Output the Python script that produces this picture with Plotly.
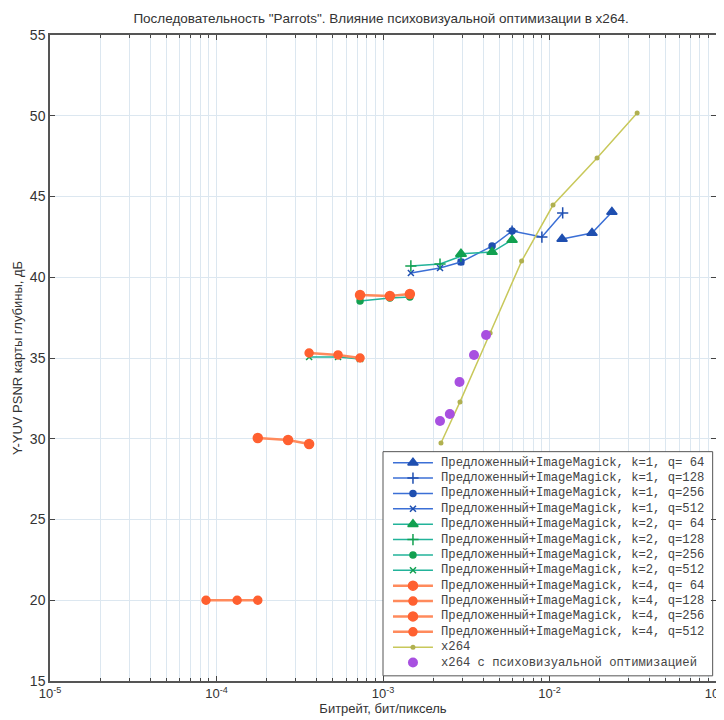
import plotly.graph_objects as go

# ---- data ----
# k=1 (blue)
k1_q64_x = [1.19e-2, 1.80e-2, 2.37e-2]
k1_q64_y = [42.37, 42.74, 44.04]
k1_q128_x = [5.96e-3, 9.0e-3, 1.2e-2]
k1_q128_y = [42.86, 42.49, 43.98]
k1_q256_x = [2.94e-3, 4.52e-3, 5.96e-3]
k1_q256_y = [40.94, 41.93, 42.86]
k1_q512_x = [1.47e-3, 2.2e-3, 2.94e-3]
k1_q512_y = [40.26, 40.57, 40.94]

# k=2 (green)
k2_q64_x = [2.94e-3, 4.52e-3, 5.96e-3]
k2_q64_y = [41.45, 41.56, 42.31]
k2_q128_x = [1.47e-3, 2.2e-3, 2.94e-3]
k2_q128_y = [40.70, 40.82, 41.30]
k2_q256_x = [7.28e-4, 1.1e-3, 1.45e-3]
k2_q256_y = [38.53, 38.72, 38.78]
k2_q512_x = [3.6e-4, 5.37e-4, 7.28e-4]
k2_q512_y = [35.06, 35.06, 34.94]

# k=4 (orange)
k4_q64_x = [7.28e-4, 1.1e-3, 1.45e-3]
k4_q64_y = [38.90, 38.84, 38.96]
k4_q128_x = [3.6e-4, 5.37e-4, 7.28e-4]
k4_q128_y = [35.31, 35.19, 35.00]
k4_q256_x = [1.77e-4, 2.69e-4, 3.6e-4]
k4_q256_y = [30.05, 29.92, 29.67]
k4_q512_x = [8.65e-5, 1.33e-4, 1.77e-4]
k4_q512_y = [20.0, 20.0, 20.0]

# x264
x264_x = [2.23e-3, 2.9e-3, 4.4e-3, 6.8e-3, 1.05e-2, 1.93e-2, 3.36e-2]
x264_y = [29.74, 32.28, 36.55, 41.0, 44.47, 47.38, 50.17]

# x264 with psychovisual optimization
psy_x = [2.2e-3, 2.52e-3, 2.88e-3, 3.52e-3, 4.16e-3]
psy_y = [31.1, 31.53, 33.51, 35.19, 36.42]

x_tickvals = [1e-5, 1e-4, 1e-3, 1e-2, 1e-1]
x_ticktext = ["10<sup>-5</sup>", "10<sup>-4</sup>", "10<sup>-3</sup>", "10<sup>-2</sup>", "10<sup>-1</sup>"]
x_minor = [m * 10.0 ** e for e in range(-5, -1) for m in range(2, 10)]

label = "Предложенный+ImageMagick, k={k}, q={q}"

fig = go.Figure()
entries = []  # (name, line color, line width, marker dict, show line)


def add(x, y, name, lc, mc, sym, msize, lw):
    marker = dict(color=mc, symbol=sym, size=msize, line=dict(color=mc, width=1.5))
    fig.add_trace(go.Scatter(x=x, y=y, name=name, mode="lines+markers",
                             line=dict(color=lc, width=lw), marker=marker,
                             showlegend=False))
    entries.append((name, lc, lw, marker, True))


blue_l, blue_m = "#3b6fd6", "#1f4fb0"
green_l, green_m = "#22b39a", "#12a050"
orange_l, orange_m = "#ff8a5c", "#ff6030"

add(k1_q64_x, k1_q64_y, label.format(k=1, q=" 64"), blue_l, blue_m, "triangle-up", 9, 1.5)
add(k1_q128_x, k1_q128_y, label.format(k=1, q="128"), blue_l, blue_m, "cross-thin", 8, 1.5)
add(k1_q256_x, k1_q256_y, label.format(k=1, q="256"), blue_l, blue_m, "circle", 6, 1.5)
add(k1_q512_x, k1_q512_y, label.format(k=1, q="512"), blue_l, blue_m, "x-thin", 6, 1.5)
add(k2_q64_x, k2_q64_y, label.format(k=2, q=" 64"), green_l, green_m, "triangle-up", 9, 1.5)
add(k2_q128_x, k2_q128_y, label.format(k=2, q="128"), green_l, green_m, "cross-thin", 8, 1.5)
add(k2_q256_x, k2_q256_y, label.format(k=2, q="256"), green_l, green_m, "circle", 6, 1.5)
add(k2_q512_x, k2_q512_y, label.format(k=2, q="512"), green_l, green_m, "x-thin", 6, 1.5)
add(k4_q64_x, k4_q64_y, label.format(k=4, q=" 64"), orange_l, orange_m, "circle", 9, 2.5)
add(k4_q128_x, k4_q128_y, label.format(k=4, q="128"), orange_l, orange_m, "circle", 8, 2.5)
add(k4_q256_x, k4_q256_y, label.format(k=4, q="256"), orange_l, orange_m, "circle", 9, 2.5)
add(k4_q512_x, k4_q512_y, label.format(k=4, q="512"), orange_l, orange_m, "circle", 8, 2.5)

x264_marker = dict(color="#b0b050", size=5, symbol="circle")
fig.add_trace(go.Scatter(x=x264_x, y=x264_y, name="x264", mode="lines+markers",
                         line=dict(color="#c8c85a", width=1.5), marker=x264_marker,
                         showlegend=False))
entries.append(("x264", "#c8c85a", 1.5, x264_marker, True))

psy_marker = dict(color="#a850e0", size=10, symbol="circle")
fig.add_trace(go.Scatter(x=psy_x, y=psy_y, name="x264 с психовизуальной оптимизацией",
                         mode="markers", marker=psy_marker, showlegend=False))
entries.append(("x264 с психовизуальной оптимизацией", None, 0, psy_marker, False))

# ---- legend box (drawn on an overlay axis in plot-fraction units) ----
L_X0, L_X1, L_Y0, L_Y1 = 0.50, 0.995, 0.008, 0.355
ROW_TOP, ROW_STEP = 0.338, 0.0238
SAMPLE_X0, SAMPLE_X1, TEXT_X = 0.515, 0.575, 0.584

fig.add_trace(go.Scatter(x=[L_X0, L_X1, L_X1, L_X0, L_X0], y=[L_Y0, L_Y0, L_Y1, L_Y1, L_Y0],
                         mode="lines", fill="toself", fillcolor="white",
                         line=dict(color="#555", width=1), xaxis="x2", yaxis="y2",
                         showlegend=False, hoverinfo="skip"))
for i, (name, lc, lw, marker, show_line) in enumerate(entries):
    yy = ROW_TOP - i * ROW_STEP
    if show_line:
        fig.add_trace(go.Scatter(x=[SAMPLE_X0, SAMPLE_X1], y=[yy, yy], mode="lines",
                                 line=dict(color=lc, width=lw), xaxis="x2", yaxis="y2",
                                 showlegend=False, hoverinfo="skip"))
    fig.add_trace(go.Scatter(x=[(SAMPLE_X0 + SAMPLE_X1) / 2], y=[yy], mode="markers",
                             marker=marker, xaxis="x2", yaxis="y2",
                             showlegend=False, hoverinfo="skip"))
    fig.add_annotation(x=TEXT_X, y=yy, xref="paper", yref="paper", text=name,
                       showarrow=False, xanchor="left", yanchor="middle",
                       font=dict(family="Liberation Mono, Courier New, monospace",
                                 size=12.2, color="#444"))

grid_c = "#dce7f0"
fig.update_layout(
    width=716, height=712,
    margin=dict(l=42, r=8, t=27, b=39, autoexpand=False),
    paper_bgcolor="white", plot_bgcolor="white",
    font=dict(family="Liberation Sans, Arial, sans-serif", size=13, color="#333"),
    title=dict(text='Последовательность "Parrots". Влияние психовизуальной оптимизации в x264.',
               x=0.521, xanchor="center", y=0.985, yanchor="middle",
               font=dict(size=13.5, color="#333")),
    xaxis=dict(type="log", range=[-5, -1], tickmode="array",
               tickvals=x_tickvals, ticktext=x_ticktext,
               showgrid=True, gridcolor=grid_c, gridwidth=1,
               ticks="inside", ticklen=5, tickcolor="#444",
               showline=True, linecolor="#555", linewidth=1.5, mirror="allticks",
               minor=dict(tickmode="array", tickvals=x_minor, ticks="inside", ticklen=3,
                          tickcolor="#444", showgrid=True, gridcolor=grid_c),
               title=dict(text="Битрейт, бит/пиксель", standoff=0, font=dict(size=13)),
               tickfont=dict(size=13), zeroline=False, ticklabeloverflow="allow",
               automargin=False),
    yaxis=dict(range=[15, 55], dtick=5, tick0=15,
               showgrid=True, gridcolor=grid_c, gridwidth=1,
               ticks="inside", ticklen=5, tickcolor="#444",
               showline=True, linecolor="#555", linewidth=1.5, mirror="allticks",
               title=dict(text="Y-YUV PSNR карты глубины, дБ", standoff=4, font=dict(size=13)),
               tickfont=dict(size=14), zeroline=False),
    xaxis2=dict(overlaying="x", range=[0, 1], visible=False, fixedrange=True),
    yaxis2=dict(overlaying="y", range=[0, 1], visible=False, fixedrange=True),
    showlegend=False,
)

fig.write_html("out.html")
